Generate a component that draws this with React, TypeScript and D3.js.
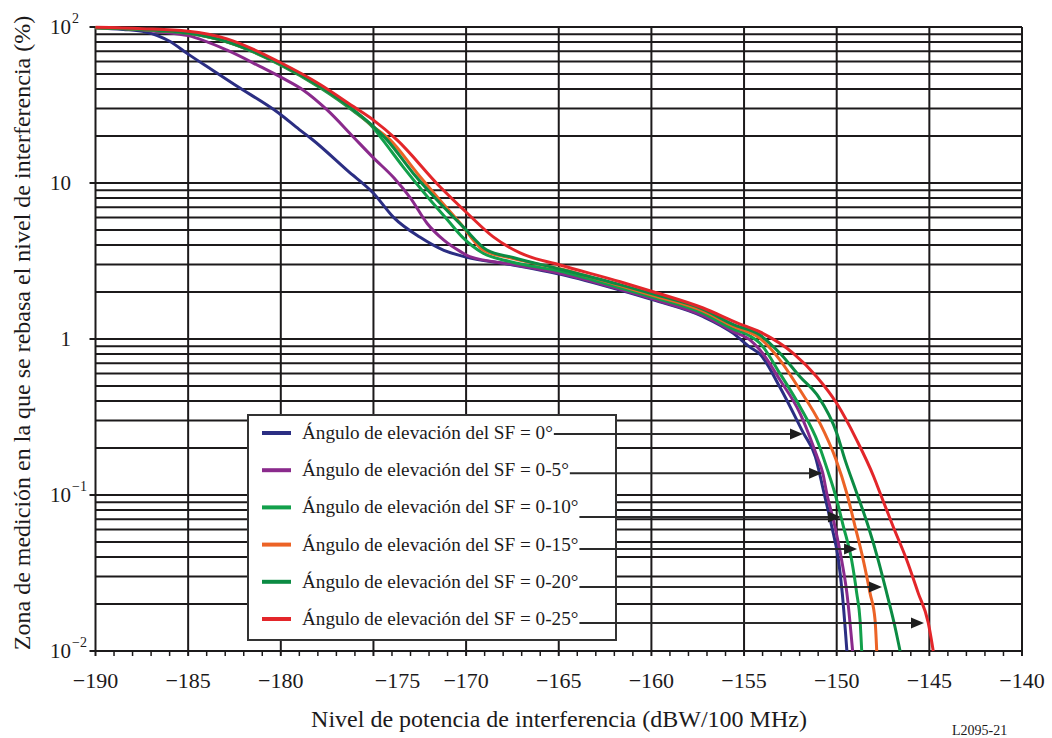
import React, { useEffect, useRef } from "react";
import * as d3 from "d3";

type Pt = [number, number];

// ---------- data ----------
const xTicks = [-190, -185, -180, -175, -170, -165, -160, -155, -150, -145, -140];
const yDecades = [0.01, 0.1, 1, 10, 100];
const yTickBase = ["10", "10", "1", "10", "10"];
const yTickSup = ["−2", "−1", "", "", "2"];

const seriesNames = [
  "Ángulo de elevación del SF = 0°",
  "Ángulo de elevación del SF = 0-5°",
  "Ángulo de elevación del SF = 0-10°",
  "Ángulo de elevación del SF = 0-15°",
  "Ángulo de elevación del SF = 0-20°",
  "Ángulo de elevación del SF = 0-25°",
];
const seriesColors = ["#2b2e83", "#8a2a8c", "#12a04b", "#ec6326", "#0b8b43", "#e3262a"];

const sf0: Pt[] = [
  [-190, 99], [-188.5, 96.5], [-187.3, 93], [-186, 81], [-185, 67], [-183.7, 53], [-182.4, 42],
  [-180.1, 28], [-179, 22], [-178.3, 19], [-176.4, 12.0], [-175, 8.6], [-173.9, 6.0], [-172.5, 4.5],
  [-171.2, 3.7], [-170, 3.35], [-167.6, 3.0], [-164.9, 2.6], [-161.7, 2.06], [-159.9, 1.78],
  [-157.2, 1.39], [-155.6, 1.09], [-154.7, 0.89], [-154.1, 0.79], [-153.1, 0.5], [-151.8, 0.25],
  [-151.15, 0.176], [-150.7, 0.105], [-150.27, 0.063], [-149.9, 0.038], [-149.7, 0.0235], [-149.45, 0.01],
];
const sf5: Pt[] = [
  [-190, 99], [-188, 97], [-186.5, 93], [-185, 88], [-182.9, 71], [-181.1, 55.7], [-179.9, 47],
  [-178.8, 39.5], [-177.5, 29.4], [-176.1, 19.8], [-175, 14.5], [-173.9, 10.8], [-173, 8.0],
  [-172.1, 5.5], [-171.2, 4.3], [-170.3, 3.63], [-169.8, 3.37], [-167.6, 3.02], [-164.9, 2.63],
  [-161.7, 2.08], [-159.9, 1.8], [-157.2, 1.41], [-155.6, 1.12], [-154.7, 0.99], [-154.14, 0.85],
  [-153.06, 0.546], [-151.98, 0.334], [-151.05, 0.175], [-150.75, 0.138], [-150.54, 0.103],
  [-150.1, 0.063], [-149.73, 0.038], [-149.45, 0.0235], [-149.14, 0.01],
];
const sf10: Pt[] = [
  [-190, 99], [-187.5, 96], [-185, 91], [-182.9, 80], [-180, 57], [-177.9, 41], [-176.1, 29],
  [-175, 22.5], [-174.5, 18.9], [-173.4, 12.7], [-172.1, 8.2], [-171.0, 5.8], [-170.2, 4.5],
  [-169.1, 3.56], [-167.6, 3.13], [-164.9, 2.72], [-161.7, 2.13], [-159.9, 1.85], [-157.2, 1.46],
  [-155.6, 1.16], [-154.7, 1.05], [-154.14, 0.94], [-153.06, 0.6], [-151.98, 0.368], [-150.99, 0.214],
  [-150.5, 0.145], [-150.1, 0.103], [-149.64, 0.063], [-149.19, 0.038], [-148.92, 0.0235],
  [-148.74, 0.0158], [-148.65, 0.01],
];
const sf15: Pt[] = [
  [-190, 99], [-187.5, 96.5], [-185, 91.5], [-182.9, 80.5], [-180, 57.5], [-177.9, 41.5], [-176.1, 29.5],
  [-175, 23], [-174.1, 18.9], [-172.65, 11.6], [-171.57, 8.17], [-170.33, 5.54], [-169.09, 3.72],
  [-167.63, 3.31], [-164.93, 2.82], [-161.7, 2.2], [-159.9, 1.9], [-157.2, 1.51], [-155.6, 1.21],
  [-154.14, 1.01], [-153.06, 0.733], [-151.98, 0.471], [-150.9, 0.288], [-150.05, 0.17],
  [-149.46, 0.103], [-149.01, 0.063], [-148.56, 0.038], [-148.2, 0.0235], [-147.93, 0.0158], [-147.84, 0.01],
];
const sf20: Pt[] = [
  [-190, 99], [-187.5, 96.5], [-185, 91.5], [-182.9, 80.5], [-180, 57.5], [-177.9, 41.5], [-176.1, 29.5],
  [-175, 23], [-174.27, 18.9], [-172.87, 11.6], [-171.57, 7.78], [-170.17, 5.25], [-168.88, 3.72],
  [-167.47, 3.33], [-164.93, 2.8], [-161.7, 2.23], [-159.9, 1.94], [-157.2, 1.55], [-155.6, 1.24],
  [-154.14, 1.06], [-153.06, 0.81], [-151.98, 0.573], [-150.99, 0.427], [-150.0, 0.25], [-149.55, 0.168],
  [-148.92, 0.103], [-148.29, 0.0626], [-147.76, 0.0383], [-147.3, 0.0235], [-146.85, 0.0142], [-146.58, 0.01],
];
const sf25: Pt[] = [
  [-190, 99.5], [-187.5, 97.5], [-185, 94], [-182.9, 84], [-180, 59], [-177.9, 43], [-176.1, 31],
  [-175, 25.3], [-173.73, 18.9], [-171.41, 9.46], [-169.95, 6.42], [-168.55, 4.53],
  [-167.09, 3.56], [-164.93, 2.98], [-161.69, 2.33], [-159.91, 2.01], [-157.21, 1.58], [-155.38, 1.27],
  [-154.14, 1.11], [-152.34, 0.81], [-151.08, 0.573], [-150.0, 0.387], [-148.92, 0.225], [-148.0, 0.131],
  [-147.66, 0.103], [-146.95, 0.0626], [-146.22, 0.0383], [-145.6, 0.0235], [-145.06, 0.0152], [-144.79, 0.01],
];
const allSeries = [sf0, sf5, sf10, sf15, sf20, sf25];

// arrow tips (dB, %) pointing from each legend entry to its curve
const arrowTargets: Pt[] = [
  [-151.82, 0.246], [-150.79, 0.138], [-149.77, 0.0723], [-148.9, 0.0451], [-147.56, 0.0257], [-145.29, 0.0151],
];

const xLabel = "Nivel de potencia de interferencia (dBW/100 MHz)";
const yLabel = "Zona de medición en la que se rebasa el nivel de interferencia (%)";
const figId = "L2095-21";

const FONT = "'Liberation Serif', 'Times New Roman', serif";

export default function App() {
  const ref = useRef<SVGSVGElement>(null);

  useEffect(() => {
    const svg = d3.select(ref.current);
    svg.selectAll("*").remove();
    const x = d3.scaleLinear().domain([-190, -140]).range([95.5, 1022]);
    const y = d3.scaleLog().domain([0.01, 100]).range([651, 27]);
    const ink = "#1c1a1b";

    // horizontal grid
    const hVals: number[] = [];
    for (let d = -2; d <= 1; d++) for (let k = 1; k <= 9; k++) hVals.push(k * Math.pow(10, d));
    hVals.push(100);
    const g = svg.append("g");
    g.selectAll("line.h").data(hVals).join("line")
      .attr("x1", (v) => (yDecades.some((dv) => Math.abs(dv - v) < 1e-9) ? x(-190) - 6 : x(-190)))
      .attr("x2", x(-140))
      .attr("y1", (v) => y(v)).attr("y2", (v) => y(v))
      .attr("stroke", ink).attr("stroke-width", 2);
    // vertical grid
    g.selectAll("line.v").data(xTicks).join("line")
      .attr("x1", (v) => x(v)).attr("x2", (v) => x(v))
      .attr("y1", y(100)).attr("y2", y(0.01) + 5)
      .attr("stroke", ink).attr("stroke-width", 2);
    // minor x ticks
    const minor = d3.range(-189, -140).filter((v) => v % 5 !== 0);
    g.selectAll("line.m").data(minor).join("line")
      .attr("x1", (v) => x(v)).attr("x2", (v) => x(v))
      .attr("y1", y(0.01)).attr("y2", y(0.01) + 5)
      .attr("stroke", ink).attr("stroke-width", 1.5);

    // x tick labels (the reference's -175 label sits right of its tick)
    const labelShift: Record<number, number> = { [-175]: 24 };
    svg.append("g").selectAll("text").data(xTicks).join("text")
      .attr("x", (v) => x(v) + (labelShift[v] || 0))
      .attr("y", 688)
      .attr("text-anchor", "middle")
      .attr("font-family", FONT).attr("font-size", 22).attr("fill", ink)
      .text((v) => (v < 0 ? "−" + Math.abs(v) : String(v)));

    // y tick labels
    const yl = svg.append("g");
    yDecades.forEach((v, i) => {
      yl.append("text").attr("x", 71).attr("y", y(v) + 7).attr("text-anchor", "end")
        .attr("font-family", FONT).attr("font-size", 21).attr("fill", ink).text(yTickBase[i]);
      if (yTickSup[i]) {
        yl.append("text").attr("x", 72).attr("y", y(v) - 4).attr("text-anchor", "start")
          .attr("font-family", FONT).attr("font-size", 14).attr("fill", ink).text(yTickSup[i]);
      }
    });

    // curves
    const line = d3.line<Pt>().x((d) => x(d[0])).y((d) => y(d[1])).curve(d3.curveMonotoneX);
    svg.append("g").selectAll("path").data(allSeries).join("path")
      .attr("d", (d) => line(d) as string)
      .attr("fill", "none")
      .attr("stroke", (_d, i) => seriesColors[i])
      .attr("stroke-width", 3)
      .attr("stroke-linejoin", "round");

    // legend
    const lg = svg.append("g");
    lg.append("rect").attr("x", 248).attr("y", 415).attr("width", 368).attr("height", 225)
      .attr("fill", "#fff").attr("stroke", "#333").attr("stroke-width", 2);
    const rowY = (i: number) => 433 + i * 37.2;
    const textEnds: number[] = [];
    seriesNames.forEach((name, i) => {
      lg.append("line").attr("x1", 262).attr("x2", 291).attr("y1", rowY(i)).attr("y2", rowY(i))
        .attr("stroke", seriesColors[i]).attr("stroke-width", 4);
      const t = lg.append("text").attr("x", 302).attr("y", rowY(i) + 6)
        .attr("font-family", FONT).attr("font-size", 19.2).attr("fill", ink).text(name);
      const node = t.node() as SVGTextElement;
      textEnds.push(302 + node.getComputedTextLength());
    });

    // arrows
    const ag = svg.append("g");
    arrowTargets.forEach((tgt, i) => {
      const tx = x(tgt[0]);
      const ty = y(tgt[1]);
      const sx = textEnds[i] + 1;
      ag.append("line").attr("x1", sx).attr("x2", tx - 10).attr("y1", ty).attr("y2", ty)
        .attr("stroke", "#2a2a2a").attr("stroke-width", 2);
      ag.append("path")
        .attr("d", `M${tx},${ty} L${tx - 13},${ty - 5.5} L${tx - 13},${ty + 5.5} Z`)
        .attr("fill", "#1e1e1e");
    });

    // axis titles
    svg.append("text").attr("x", 559).attr("y", 727).attr("text-anchor", "middle")
      .attr("font-family", FONT).attr("font-size", 24).attr("fill", ink).text(xLabel);
    svg.append("text").attr("transform", "translate(30,333) rotate(-90)").attr("text-anchor", "middle")
      .attr("font-family", FONT).attr("font-size", 24).attr("fill", ink).text(yLabel);
    svg.append("text").attr("x", 952).attr("y", 735)
      .attr("font-family", FONT).attr("font-size", 14).attr("fill", ink).text(figId);
  }, []);

  return (
    <svg
      ref={ref}
      width={1052}
      height={738}
      style={{ position: "absolute", left: 0, top: 0, background: "#fff" }}
    />
  );
}
